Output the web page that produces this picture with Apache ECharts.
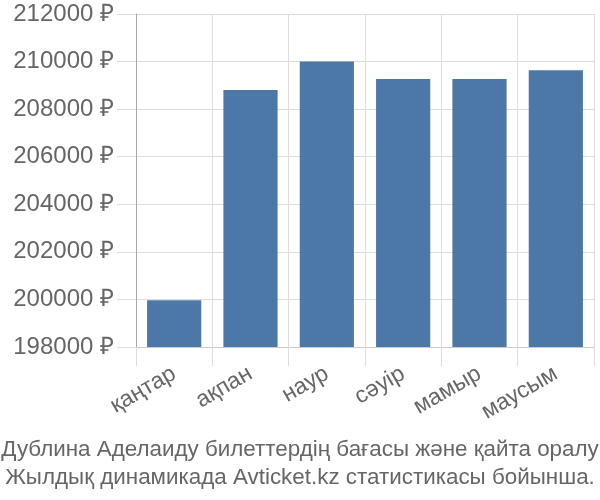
<!DOCTYPE html>
<html><head><meta charset="utf-8">
<script src="https://cdn.jsdelivr.net/npm/echarts@6/dist/echarts.min.js"></script>
<style>html,body{margin:0;padding:0;background:#fff}#c{width:600px;height:500px}</style>
</head><body><div id="c"></div>
<script>
const categories = ['қаңтар','ақпан','наур','сәуір','мамыр','маусым'];
const prices = [199970, 208800, 210000, 209270, 209270, 209630];
const yMin = 198000, yMax = 212000, yStep = 2000;
const titleLines = ['Дублина Аделаиду билеттердің бағасы және қайта оралу','Жылдық динамикада Avticket.kz статистикасы бойынша.'];

const FONT = '"Liberation Sans", Arial, sans-serif';
const chart = echarts.init(document.getElementById('c'), null, {renderer:'canvas'});
chart.setOption({
  animation:false,
  title:{text:titleLines.join('\n'), left:'center', top:431,
    textStyle:{fontFamily:FONT, fontSize:22.4, fontWeight:'normal', color:'#666', lineHeight:28}},
  grid:{left:136, right:6, top:14, bottom:153, containLabel:false},
  xAxis:{type:'category', data:categories,
    axisLine:{show:true, lineStyle:{color:'#ccc', width:1}},
    axisTick:{show:true, length:19, alignWithLabel:false, lineStyle:{color:'#ddd'}},
    splitLine:{show:true, lineStyle:{color:'#ddd'}},
    axisLabel:{rotate:30, fontFamily:FONT, fontSize:23, color:'#666', margin:25, interval:0}},
  yAxis:{type:'value', min:yMin, max:yMax, interval:yStep,
    axisLine:{show:true, lineStyle:{color:'#aaa'}},
    axisTick:{show:true, length:19, lineStyle:{color:'#ddd'}},
    splitLine:{show:true, lineStyle:{color:'#ddd'}},
    axisLabel:{formatter: v => v + ' ₽', fontFamily:FONT, fontSize:24, color:'#666', margin:22}},
  series:[{type:'bar', data:prices, barWidth:'71%', itemStyle:{color:'#4c78a8'}}]
});
</script></body></html>
